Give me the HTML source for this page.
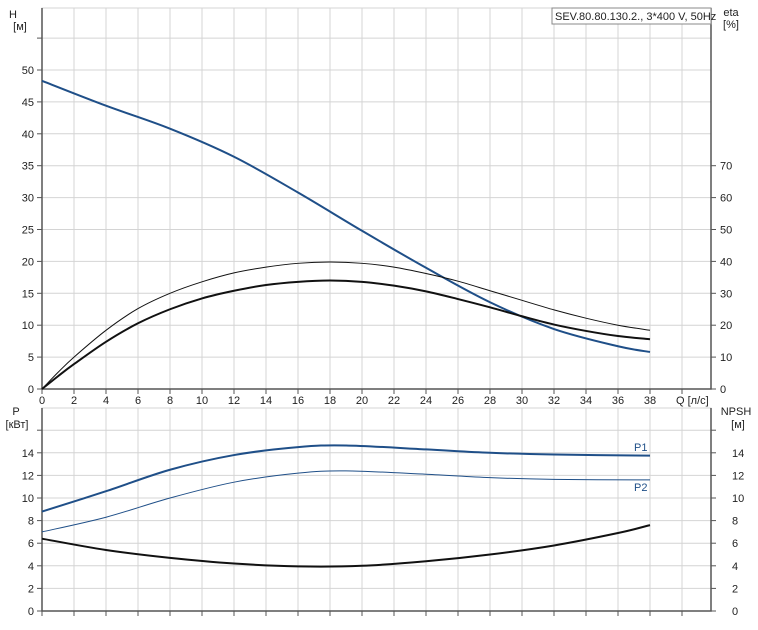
<!DOCTYPE html>
<html><head><meta charset="utf-8"><style>
body{margin:0;background:#fff;}
svg text{font-family:"Liberation Sans",sans-serif;font-size:11px;fill:#222;}
</style></head><body>
<svg id="s" width="758" height="625" xmlns="http://www.w3.org/2000/svg"></svg>
<script>
const s=document.getElementById('s');let h='';
const X=q=>42+16*q, YT=v=>389-6.38*v, YB=p=>611-11.3*p;
// grids
for(let q=2;q<=40;q+=2){h+=`<line x1="${X(q)}" y1="8" x2="${X(q)}" y2="389" stroke="#d4d4d4"/>`;h+=`<line x1="${X(q)}" y1="408" x2="${X(q)}" y2="611" stroke="#d4d4d4"/>`;}
for(let v=5;v<=55;v+=5)h+=`<line x1="42" y1="${YT(v)}" x2="711" y2="${YT(v)}" stroke="#d4d4d4"/>`;
for(let p=2;p<=16;p+=2)h+=`<line x1="42" y1="${YB(p)}" x2="711" y2="${YB(p)}" stroke="#d4d4d4"/>`;
h+=`<rect x="42" y="8" width="669" height="381" fill="none" stroke="#d4d4d4"/>`;
h+=`<rect x="42" y="408" width="669" height="203" fill="none" stroke="#d4d4d4"/>`;
// axes
h+=`<path d="M42 8V389H711V8M42 408V611H711V408" fill="none" stroke="#555" stroke-width="1.5"/>`;
for(let v=0;v<=55;v+=5){const y=YT(v);h+=`<line x1="37" y1="${y}" x2="42" y2="${y}" stroke="#555"/>`;if(v<=50)h+=`<text x="34" y="${y+4}" text-anchor="end">${v}</text>`;}
for(let e=10;e<=70;e+=10){const y=YT(e/2);h+=`<line x1="711" y1="${y}" x2="716" y2="${y}" stroke="#555"/><text x="720" y="${y+4}">${e}</text>`;}
h+=`<line x1="711" y1="389" x2="716" y2="389" stroke="#555"/><text x="720" y="393">0</text>`;
for(let q=0;q<=40;q+=2){h+=`<line x1="${X(q)}" y1="389" x2="${X(q)}" y2="394" stroke="#555"/>`;if(q<=38)h+=`<text x="${X(q)}" y="404" text-anchor="middle">${q}</text>`;
h+=`<line x1="${X(q)}" y1="611" x2="${X(q)}" y2="616" stroke="#555"/>`;}
h+=`<text x="676" y="404">Q [л/с]</text>`;
for(let p=0;p<=16;p+=2){const y=YB(p);h+=`<line x1="37" y1="${y}" x2="42" y2="${y}" stroke="#555"/><line x1="711" y1="${y}" x2="716" y2="${y}" stroke="#555"/>`;if(p<=14)h+=`<text x="34" y="${y+4}" text-anchor="end">${p}</text><text x="732" y="${y+4}">${p}</text>`;}
h+=`<text x="13" y="18" text-anchor="middle">H</text><text x="20" y="30" text-anchor="middle">[м]</text>`;
h+=`<text x="731" y="16" text-anchor="middle">eta</text><text x="731" y="28" text-anchor="middle">[%]</text>`;
h+=`<text x="16" y="415" text-anchor="middle">P</text><text x="17" y="428" text-anchor="middle">[кВт]</text>`;
h+=`<text x="736" y="415" text-anchor="middle">NPSH</text><text x="738" y="428" text-anchor="middle">[м]</text>`;
h+=`<rect x="552" y="8" width="159" height="16" fill="#fff" stroke="#888"/><text x="555" y="20">SEV.80.80.130.2., 3*400 V, 50Hz</text>`;
function cr(pts){let d=`M${pts[0][0]} ${pts[0][1]}`;for(let i=0;i<pts.length-1;i++){const p0=pts[i-1]||pts[i],p1=pts[i],p2=pts[i+1],p3=pts[i+2]||p2;
d+=`C${p1[0]+(p2[0]-p0[0])/6} ${p1[1]+(p2[1]-p0[1])/6} ${p2[0]-(p3[0]-p1[0])/6} ${p2[1]-(p3[1]-p1[1])/6} ${p2[0]} ${p2[1]}`;}return d;}
function cur(data,fy,col,w){const pts=data.map(a=>[X(a[0]),fy(a[1])]);h+=`<path d="${cr(pts)}" fill="none" stroke="${col}" stroke-width="${w}"/>`;}
const blue='#1f4f88';
cur([[0,48.3],[4,44.4],[8,40.8],[12,36.4],[16,30.8],[20,24.8],[24,19],[28,13.6],[32,9.4],[36,6.7],[38,5.8]],YT,blue,2);
cur([[0,0],[1,2.6],[2,5],[4,9.2],[6,12.6],[8,15],[10,16.8],[12,18.2],[14,19.1],[16,19.7],[18,19.9],[20,19.7],[22,19.1],[24,18.1],[26,16.9],[28,15.4],[30,13.9],[32,12.4],[34,11.1],[36,10],[38,9.2]],YT,'#111',1);
cur([[0,0],[1,2],[2,3.9],[4,7.4],[6,10.3],[8,12.5],[10,14.2],[12,15.4],[14,16.3],[16,16.8],[18,17],[20,16.8],[22,16.2],[24,15.3],[26,14.1],[28,12.8],[30,11.4],[32,10.1],[34,9.1],[36,8.3],[38,7.8]],YT,'#111',2);
cur([[0,8.8],[4,10.6],[8,12.5],[12,13.8],[16,14.5],[19,14.65],[24,14.3],[28,14],[32,13.85],[38,13.75]],YB,blue,2);
cur([[0,7],[4,8.3],[8,10],[12,11.4],[16,12.2],[19,12.4],[24,12.1],[28,11.8],[32,11.65],[38,11.6]],YB,blue,1);
cur([[0,6.4],[4,5.4],[8,4.7],[12,4.2],[16,3.95],[20,4],[24,4.4],[28,5],[32,5.8],[36,6.9],[38,7.6]],YB,'#111',2);
h+=`<text x="634" y="451" style="fill:${blue}">P1</text><text x="634" y="491" style="fill:${blue}">P2</text>`;
s.innerHTML=h;
</script>
</body></html>
